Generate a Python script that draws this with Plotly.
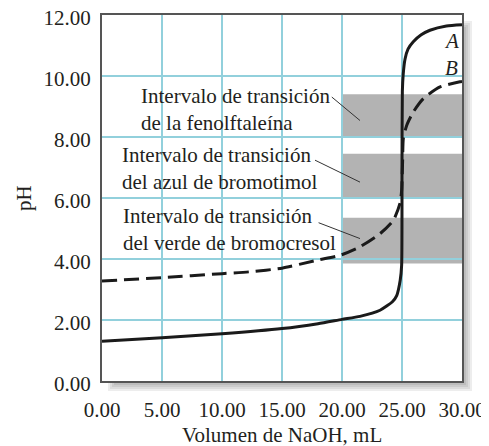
import plotly.graph_objects as go

# curva A (ácido fuerte) y curva B (ácido débil)
vol_A = [0, 5, 10, 15, 18, 20, 21.5, 23.17, 24.2, 24.56, 24.85, 24.97, 25.0, 25.03, 25.1, 25.25, 25.5, 25.94, 26.6, 27.33, 28.7, 30]
ph_A = [1.30, 1.42, 1.55, 1.72, 1.88, 2.02, 2.12, 2.32, 2.60, 2.80, 3.30, 3.80, 7.00, 9.50, 10.05, 10.55, 10.88, 11.12, 11.35, 11.50, 11.64, 11.68]

vol_B = [0, 5, 10, 12.3, 15, 17.9, 19.83, 21.5, 23.17, 24.28, 24.83, 24.97, 25.05, 25.11, 25.39, 25.94, 26.78, 28.17, 29.83, 30]
ph_B = [3.28, 3.39, 3.52, 3.58, 3.70, 3.96, 4.12, 4.40, 4.83, 5.27, 5.82, 6.25, 7.20, 7.95, 8.38, 8.82, 9.26, 9.64, 9.81, 9.82]

# intervalos de transición de los indicadores
ind_names = ["Intervalo de transición<br>de la fenolftaleína",
             "Intervalo de transición<br>del azul de bromotimol",
             "Intervalo de transición<br>del verde de bromocresol"]
ind_low = [8.0, 6.0, 3.85]
ind_high = [9.4, 7.45, 5.35]
ind_vol = [20, 30]

x_ticks = [0, 5, 10, 15, 20, 25, 30]
y_ticks = [0, 2, 4, 6, 8, 10, 12]

# la página deja 8 px de margen en el body
OFF = 8
W, H = 489 - OFF, 446 - OFF
L, R, T, B = 102 - OFF, 27, 15 - OFF, 65
txt = "#231f20"
serif = "Liberation Serif"
fs = 21


def px(x):
    return (x - OFF - L) / (W - L - R)


def py(y):
    return (H - B - (y - OFF)) / (H - T - B)


fig = go.Figure()

fig.add_trace(go.Scatter(x=vol_A, y=ph_A, mode="lines", line=dict(color="#1a1a1a", width=3, shape="spline", smoothing=0.6),
                         showlegend=False, hoverinfo="skip"))
fig.add_trace(go.Scatter(x=vol_B, y=ph_B, mode="lines", line=dict(color="#1a1a1a", width=3, dash="15px,7px", shape="spline", smoothing=0.6),
                         showlegend=False, hoverinfo="skip"))

shapes = []
# sombra del marco
for k in range(5):
    shapes.append(dict(type="rect", xref="paper", yref="paper", layer="below",
                       x0=px(112 + 2 * k - 4), x1=px(472 - 2 * k), y0=py(391 - 2 * k), y1=py(25 + 2 * k - 4),
                       fillcolor="rgba(0,0,0,0.07)", line_width=0))
shapes.append(dict(type="rect", xref="paper", yref="paper", layer="below", x0=0, x1=1, y0=0, y1=1,
                   fillcolor="white", line_width=0))
for lo, hi in zip(ind_low, ind_high):
    shapes.append(dict(type="rect", xref="x", yref="y", layer="below", x0=ind_vol[0], x1=ind_vol[1], y0=lo, y1=hi,
                       fillcolor="#b3b3b3", line_width=0))

# líneas guía de las etiquetas
leaders = [((19.15, 9.31), (21.5, 8.54)), ((17.75, 7.24), (21.5, 6.52)), ((18.05, 5.19), (21.5, 4.67))]
for (x0, y0), (x1, y1) in leaders:
    shapes.append(dict(type="line", xref="x", yref="y", x0=x0, y0=y0, x1=x1, y1=y1, line=dict(color="#333", width=1)))

annotations = []
lab_pos = [(3.05, 8.9), (1.5, 6.97), (1.55, 4.96)]
for name, (x, y) in zip(ind_names, lab_pos):
    annotations.append(dict(x=x, y=y, xref="x", yref="y", text=name, showarrow=False, xanchor="left", yanchor="middle",
                            align="left", font=dict(family=serif, size=fs, color=txt)))
annotations.append(dict(x=29.1, y=11.15, xref="x", yref="y", text="<i>A</i>", showarrow=False,
                        font=dict(family=serif, size=fs, color=txt)))
annotations.append(dict(x=29.1, y=10.25, xref="x", yref="y", text="<i>B</i>", showarrow=False,
                        font=dict(family=serif, size=fs, color=txt)))
# títulos de los ejes
annotations.append(dict(x=0.5, y=py(435), xref="paper", yref="paper", text="Volumen de NaOH, mL", showarrow=False,
                        xanchor="center", yanchor="middle", font=dict(family=serif, size=fs, color=txt)))
annotations.append(dict(x=px(24), y=0.5, xref="paper", yref="paper", text="pH", showarrow=False, textangle=-90,
                        xanchor="center", yanchor="middle", font=dict(family=serif, size=fs, color=txt)))

grid = "#92d0dc"
fig.update_layout(
    width=W, height=H,
    margin=dict(l=L, r=R, t=T, b=B),
    paper_bgcolor="white", plot_bgcolor="white",
    shapes=shapes, annotations=annotations,
    font=dict(family=serif, size=fs, color=txt),
    xaxis=dict(range=[0, 30], tickvals=x_ticks, tickformat=".2f", showgrid=True, gridcolor=grid, gridwidth=1.5,
               zeroline=False, showline=True, mirror=True, linecolor="#555", linewidth=2, automargin=False,
               ticks="outside", ticklen=9, tickcolor="rgba(0,0,0,0)", ticklabeloverflow="allow"),
    yaxis=dict(range=[0, 12], tickvals=y_ticks, tickformat=".2f", showgrid=True, gridcolor=grid, gridwidth=1.5,
               zeroline=False, showline=True, mirror=True, linecolor="#555", linewidth=2, automargin=False,
               ticks="outside", ticklen=5, tickcolor="rgba(0,0,0,0)", ticklabeloverflow="allow",
               ticklabelshift=3),
)

fig.write_html("out.html")
